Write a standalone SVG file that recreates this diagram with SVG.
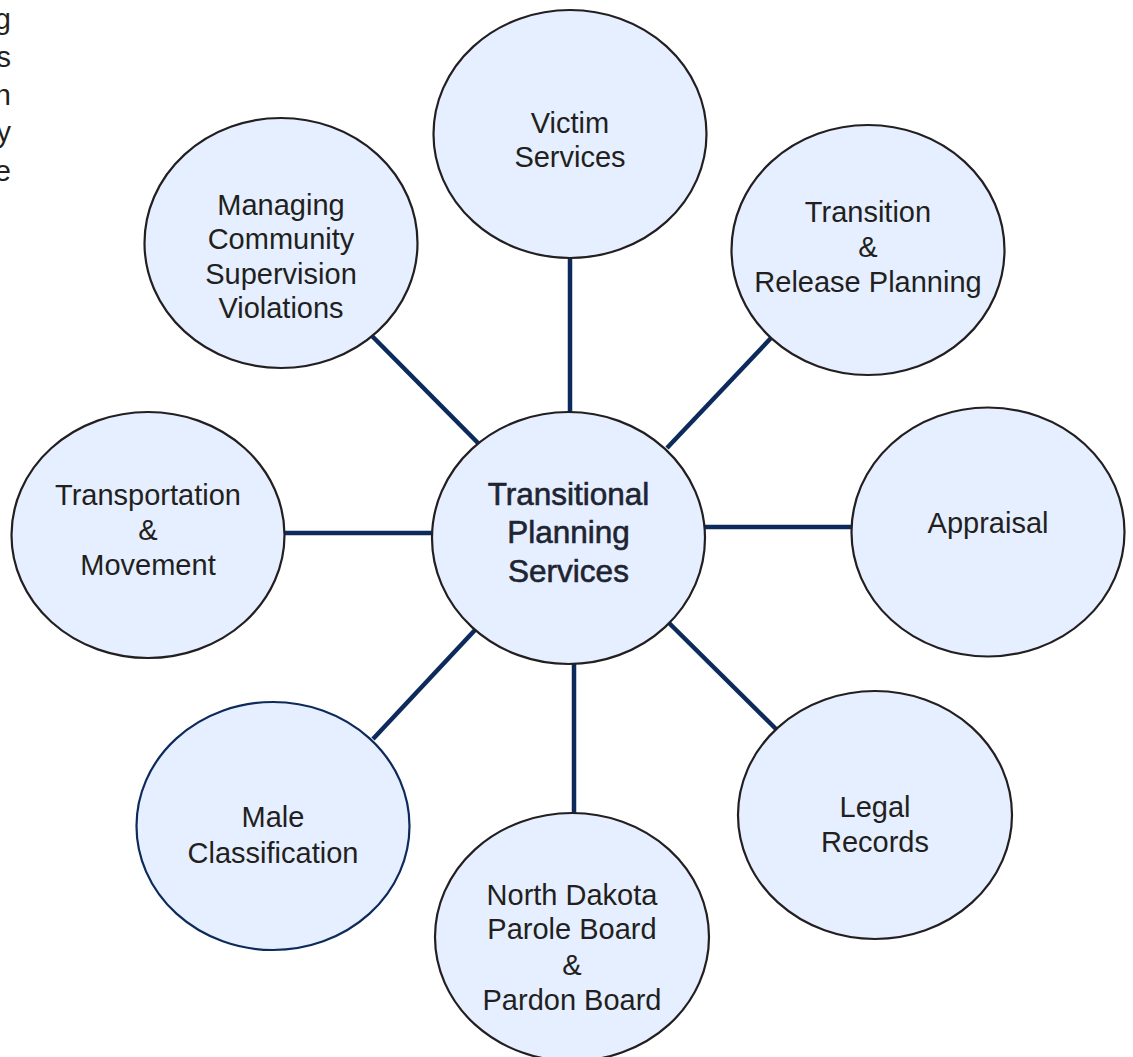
<svg xmlns="http://www.w3.org/2000/svg" width="1133" height="1057" viewBox="0 0 1133 1057">
<style>
.node ellipse{fill:#e5efff;stroke:#231f20;stroke-width:2.2}
.node.navy ellipse{stroke:#0d2a5a}
text{font-family:"Liberation Sans",Arial,sans-serif;font-size:29px;fill:#231f20;text-anchor:middle}
.center text{font-size:31.5px;fill:#1e2430;stroke:#1b2433;stroke-width:0.6;paint-order:stroke}
.edge line{stroke:#0c2b5c;stroke-width:4.5}
.clip text{text-anchor:end}
</style>
<rect width="1133" height="1057" fill="#ffffff"/>
<g id="clipped-text" class="clip">
<text x="11" y="29">g</text>
<text x="11" y="67">s</text>
<text x="11" y="105">n</text>
<text x="11" y="142">y</text>
<text x="11" y="181">e</text>
</g>
<g id="connectors" class="edge">
<line x1="570" y1="258" x2="570" y2="412"/>
<line x1="372" y1="336" x2="478" y2="443"/>
<line x1="771" y1="338" x2="667" y2="448"/>
<line x1="285" y1="533" x2="432" y2="533"/>
<line x1="705" y1="527" x2="852" y2="527"/>
<line x1="373" y1="739" x2="475" y2="630"/>
<line x1="574" y1="663" x2="574" y2="813"/>
<line x1="668" y1="622" x2="776" y2="729"/>
</g>
<g id="victim-services" class="node">
<ellipse cx="570" cy="134" rx="136.5" ry="124"/>
<text x="570" y="133">Victim</text>
<text x="570" y="167">Services</text>
</g>
<g id="managing" class="node">
<ellipse cx="281" cy="243" rx="136.5" ry="125"/>
<text x="281" y="215">Managing</text>
<text x="281" y="249">Community</text>
<text x="281" y="284">Supervision</text>
<text x="281" y="318">Violations</text>
</g>
<g id="transition" class="node">
<ellipse cx="868" cy="250" rx="136.5" ry="125"/>
<text x="868" y="222">Transition</text>
<text x="868" y="257">&amp;</text>
<text x="868" y="292">Release Planning</text>
</g>
<g id="transportation" class="node">
<ellipse cx="148" cy="535" rx="136.5" ry="123"/>
<text x="148" y="505">Transportation</text>
<text x="148" y="540">&amp;</text>
<text x="148" y="575">Movement</text>
</g>
<g id="appraisal" class="node">
<ellipse cx="988" cy="532" rx="136.5" ry="124.5"/>
<text x="988" y="533">Appraisal</text>
</g>
<g id="male-classification" class="node navy">
<ellipse cx="273" cy="826" rx="136.5" ry="124"/>
<text x="273" y="827">Male</text>
<text x="273" y="863">Classification</text>
</g>
<g id="legal-records" class="node">
<ellipse cx="875" cy="815" rx="137" ry="124"/>
<text x="875" y="817">Legal</text>
<text x="875" y="852">Records</text>
</g>
<g id="parole-board" class="node">
<ellipse cx="572" cy="937" rx="137" ry="124"/>
<text x="572" y="905">North Dakota</text>
<text x="572" y="939">Parole Board</text>
<text x="572" y="975">&amp;</text>
<text x="572" y="1010">Pardon Board</text>
</g>
<g id="transitional-planning-services" class="node center">
<ellipse cx="568.5" cy="538" rx="136.5" ry="126"/>
<text x="568.5" y="505">Transitional</text>
<text x="568.5" y="543">Planning</text>
<text x="568.5" y="582">Services</text>
</g>
</svg>
